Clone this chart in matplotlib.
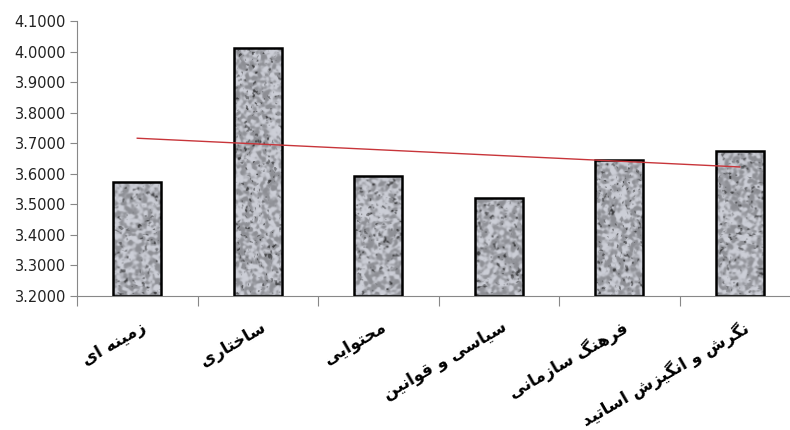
import numpy as np
import matplotlib
matplotlib.use("Agg")
import matplotlib.pyplot as plt

categories = ["زمینه ای", "ساختاری", "محتوایی", "سیاسی و قوانین",
              "فرهنگ سازمانی", "نگرش و انگیزش اساتید"]
values = [3.572, 4.010, 3.594, 3.521, 3.645, 3.674]
yticks = [3.2, 3.3, 3.4, 3.5, 3.6, 3.7, 3.8, 3.9, 4.0, 4.1]

# matplotlib does no Arabic shaping, so pick presentation forms by hand
# (isolated, final, initial, medial); None = letter never joins to the next one
FORMS = {
    "ا": (0xFE8D, 0xFE8E, None, None),
    "د": (0xFEA9, 0xFEAA, None, None),
    "ر": (0xFEAD, 0xFEAE, None, None),
    "ز": (0xFEAF, 0xFEB0, None, None),
    "و": (0xFEED, 0xFEEE, None, None),
    "ت": (0xFE95, 0xFE96, 0xFE97, 0xFE98),
    "ح": (0xFEA1, 0xFEA2, 0xFEA3, 0xFEA4),
    "خ": (0xFEA5, 0xFEA6, 0xFEA7, 0xFEA8),
    "س": (0xFEB1, 0xFEB2, 0xFEB3, 0xFEB4),
    "ش": (0xFEB5, 0xFEB6, 0xFEB7, 0xFEB8),
    "ف": (0xFED1, 0xFED2, 0xFED3, 0xFED4),
    "ق": (0xFED5, 0xFED6, 0xFED7, 0xFED8),
    "م": (0xFEE1, 0xFEE2, 0xFEE3, 0xFEE4),
    "ن": (0xFEE5, 0xFEE6, 0xFEE7, 0xFEE8),
    "ه": (0xFEE9, 0xFEEA, 0xFEEB, 0xFEEC),
    "ی": (0xFBFC, 0xFBFD, 0xFBFE, 0xFBFF),
    "گ": (0xFB92, 0xFB93, 0xFB94, 0xFB95),
}


def shape(s):
    out = []
    for i, c in enumerate(s):
        if c not in FORMS:
            out.append(c)
            continue
        prev = s[i - 1] if i > 0 else ""
        nxt = s[i + 1] if i + 1 < len(s) else ""
        pj = prev in FORMS and FORMS[prev][2] is not None
        nj = FORMS[c][2] is not None and nxt in FORMS
        f = FORMS[c]
        if pj and nj:
            code = f[3]
        elif pj:
            code = f[1]
        elif nj:
            code = f[2]
        else:
            code = f[0]
        out.append(chr(code))
    return "".join(out)[::-1]


def blur(a, sigma):
    r = int(3 * sigma) + 1
    k = np.exp(-0.5 * (np.arange(-r, r + 1) / sigma) ** 2)
    k /= k.sum()
    a = np.apply_along_axis(lambda v: np.convolve(v, k, mode="same"), 1, a)
    a = np.apply_along_axis(lambda v: np.convolve(v, k, mode="same"), 0, a)
    return (a - a.mean()) / a.std()


# granite-like texture for the bar fill (slightly bluish grey)
def granite(h, w, seed=11):
    rng = np.random.default_rng(seed)
    base = blur(rng.random((h, w)), 1.3)
    spots = blur(rng.random((h, w)), 0.9)
    g = 0.70 + 0.13 * np.tanh(base * 1.2)
    g -= 0.32 * np.clip((spots - 1.1) / 0.9, 0, 1)
    g = np.clip(g, 0, 1)
    return np.dstack([g * 0.97, g * 0.98, np.minimum(g * 1.02, 1)])


fig = plt.figure(figsize=(7.9, 4.3), dpi=100)
ax = fig.add_axes([77 / 790, 1 - 296 / 430, 723 / 790, 275 / 430])

x = np.arange(len(categories))
bars = ax.bar(x, np.array(values) - 3.2, bottom=3.2, width=0.4,
              facecolor="none", edgecolor="black", linewidth=1.8, zorder=3)

tex = granite(280, 730)
for b in bars:
    im = ax.imshow(tex, extent=(-0.5, 5.5, 3.2, 4.1),
                   aspect="auto", interpolation="bilinear", zorder=2)
    im.set_clip_path(b)

# linear trend line
p = np.polyfit(x, values, 1)
ax.plot(x, np.polyval(p, x), color="#c8353a", linewidth=1.0, zorder=4)

ax.set_xlim(-0.5, 5.5)
ax.set_ylim(3.2, 4.1)
ax.set_yticks(yticks)
ax.set_yticklabels([f"{v:.4f}" for v in yticks], fontsize=10.5, color="#222222")
ax.set_xticks(np.arange(-0.5, 6, 1))
ax.set_xticklabels([])
ax.tick_params(axis="y", length=5, color="#888888", pad=3)
ax.tick_params(axis="x", length=7, color="#888888")

for s in ["top", "right"]:
    ax.spines[s].set_visible(False)
for s in ["left", "bottom"]:
    ax.spines[s].set_color("#888888")

for i, c in enumerate(categories):
    ax.text(i + 0.02, -0.08, shape(c), transform=ax.get_xaxis_transform(),
            rotation=30, rotation_mode="anchor", ha="right", va="top",
            fontsize=12, fontweight="bold", family="DejaVu Sans")

fig.savefig("out.png", dpi=100)
